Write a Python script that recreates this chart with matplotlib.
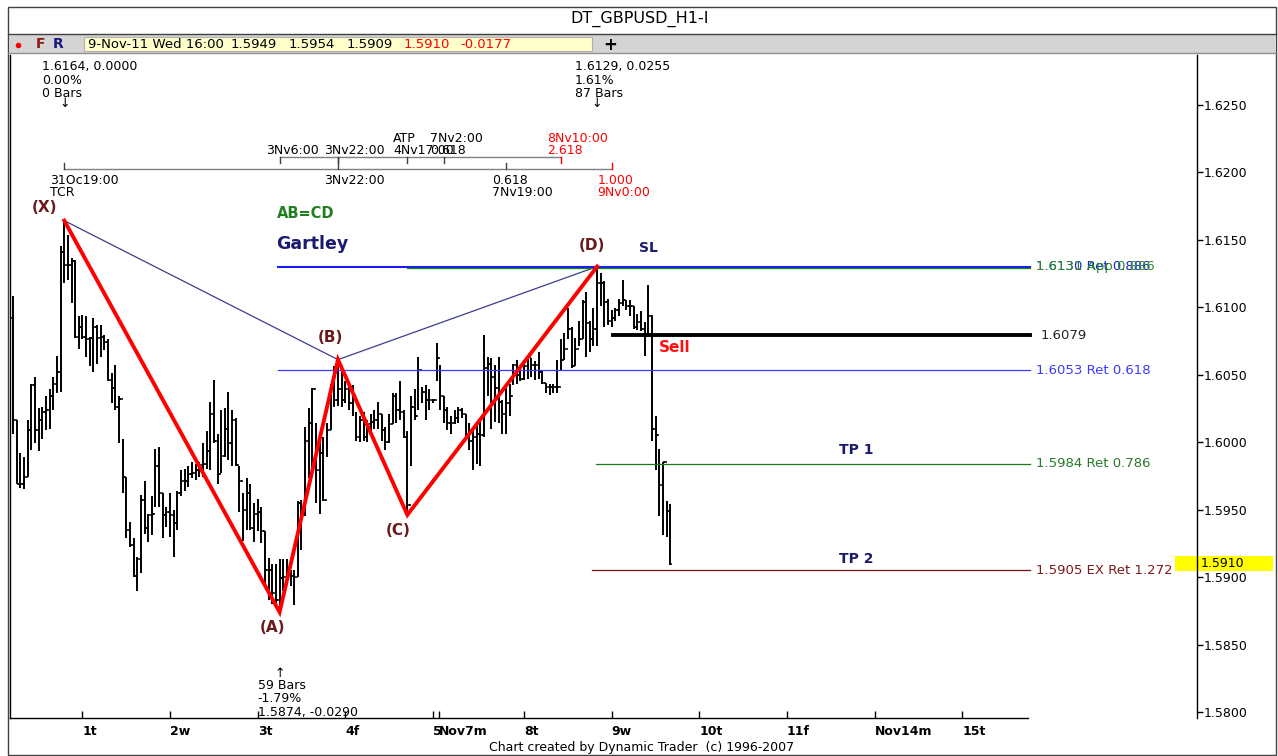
import matplotlib
matplotlib.use('Agg')
import matplotlib.pyplot as plt
import matplotlib.transforms as mtransforms
from matplotlib.patches import Rectangle
import numpy as np

# GBPUSD hourly bars, bar 0 = 1 Nov 00:00 (first bar shown = 31 Oct 05:00)
first_bar = -19
first_open = 1.6092
highs = [
    1.6108, 1.6016, 1.5992, 1.5989, 1.6016, 1.6043, 1.6048, 1.6025, 1.6026, 1.6034,
    1.6039, 1.6048, 1.6064, 1.6145, 1.6164, 1.6153, 1.6136, 1.6135, 1.6093, 1.6094,
    1.6093, 1.6078, 1.6092, 1.6087, 1.6087, 1.6079, 1.6076, 1.6051, 1.6057, 1.6034,
    1.6002, 1.5974, 1.5941, 1.5929, 1.5915, 1.5961, 1.5971, 1.5947, 1.5960, 1.5995,
    1.5996, 1.5962, 1.5952, 1.5962, 1.5950, 1.5964, 1.5979, 1.5980, 1.5982, 1.5985,
    1.5984, 1.5985, 1.5999, 1.6008, 1.6030, 1.6046, 1.6006, 1.6024, 1.6025, 1.6037,
    1.6024, 1.6018, 1.5982, 1.5962, 1.5973, 1.5969, 1.5955, 1.5958, 1.5952, 1.5934,
    1.5914, 1.5910, 1.5910, 1.5913, 1.5913, 1.5913, 1.5905, 1.5905, 1.5956, 1.5957,
    1.6011, 1.6025, 1.6040, 1.6014, 1.6005, 1.6004, 1.6014, 1.6043, 1.6056, 1.6061,
    1.6052, 1.6045, 1.6041, 1.6042, 1.6022, 1.6019, 1.6022, 1.6016, 1.6021, 1.6024,
    1.6030, 1.6021, 1.6011, 1.6021, 1.6036, 1.6036, 1.6045, 1.6024, 1.6008, 1.6034,
    1.6039, 1.6063, 1.6041, 1.6042, 1.6039, 1.6032, 1.6073, 1.6057, 1.6034, 1.6026,
    1.6019, 1.6024, 1.6026, 1.6025, 1.6021, 1.6014, 1.6011, 1.6013, 1.6015, 1.6079,
    1.6063, 1.6062, 1.6057, 1.6063, 1.6031, 1.6043, 1.6043, 1.6058, 1.6061, 1.6056,
    1.6061, 1.6064, 1.6062, 1.6060, 1.6067, 1.6053, 1.6044, 1.6043, 1.6043, 1.6061,
    1.6076, 1.6081, 1.6099, 1.6085, 1.6077, 1.6090, 1.6105, 1.6111, 1.6090, 1.6099,
    1.6130, 1.6125, 1.6119, 1.6106, 1.6098, 1.6099, 1.6106, 1.6120, 1.6105, 1.6105,
    1.6101, 1.6095, 1.6097, 1.6089, 1.6116, 1.6094, 1.6019, 1.5995, 1.5985, 1.5956, 1.5954,
]
lows = [
    1.6006, 1.5969, 1.5966, 1.5965, 1.5974, 1.5994, 1.5999, 1.5993, 1.6002, 1.6009,
    1.6010, 1.6024, 1.6036, 1.6037, 1.6118, 1.6120, 1.6103, 1.6077, 1.6069, 1.6076,
    1.6063, 1.6056, 1.6052, 1.6058, 1.6063, 1.6068, 1.6045, 1.6029, 1.6024, 1.5999,
    1.5962, 1.5929, 1.5922, 1.5900, 1.5890, 1.5903, 1.5932, 1.5926, 1.5931, 1.5952,
    1.5952, 1.5929, 1.5937, 1.5930, 1.5915, 1.5935, 1.5960, 1.5964, 1.5967, 1.5973,
    1.5972, 1.5974, 1.5974, 1.5980, 1.5979, 1.5999, 1.5969, 1.5977, 1.5989, 1.5987,
    1.5982, 1.5982, 1.5948, 1.5927, 1.5935, 1.5935, 1.5926, 1.5934, 1.5925, 1.5895,
    1.5883, 1.5880, 1.5879, 1.5874, 1.5890, 1.5895, 1.5893, 1.5879, 1.5900, 1.5920,
    1.5945, 1.5973, 1.5974, 1.5955, 1.5947, 1.5956, 1.5989, 1.6009, 1.6026, 1.6027,
    1.6026, 1.6029, 1.6024, 1.6019, 1.6001, 1.6000, 1.6001, 1.6000, 1.6006, 1.6010,
    1.6010, 1.6001, 1.5994, 1.5999, 1.6013, 1.6014, 1.6016, 1.6003, 1.5946, 1.5982,
    1.6016, 1.6024, 1.6029, 1.6016, 1.6024, 1.6029, 1.6045, 1.6024, 1.6014, 1.6009,
    1.6006, 1.6013, 1.6014, 1.6018, 1.6004, 1.5994, 1.5979, 1.5984, 1.5982, 1.6004,
    1.6034, 1.6010, 1.6015, 1.6014, 1.6006, 1.6006, 1.6019, 1.6042, 1.6043, 1.6045,
    1.6046, 1.6047, 1.6048, 1.6046, 1.6047, 1.6043, 1.6036, 1.6035, 1.6036, 1.6036,
    1.6053, 1.6061, 1.6076, 1.6055, 1.6056, 1.6071, 1.6076, 1.6063, 1.6067, 1.6071,
    1.6071, 1.6101, 1.6085, 1.6087, 1.6085, 1.6090, 1.6093, 1.6101, 1.6098, 1.6093,
    1.6084, 1.6083, 1.6082, 1.6064, 1.6078, 1.6001, 1.5979, 1.5945, 1.5931, 1.5930, 1.5909,
]
closes = [
    1.6016, 1.5969, 1.5969, 1.5974, 1.6009, 1.6042, 1.6009, 1.6016, 1.6022, 1.6024,
    1.6034, 1.6043, 1.6052, 1.6141, 1.6131, 1.6131, 1.6134, 1.6078, 1.6085, 1.6078,
    1.6076, 1.6077, 1.6085, 1.6077, 1.6078, 1.6074, 1.6046, 1.6040, 1.6026, 1.6032,
    1.5974, 1.5935, 1.5924, 1.5901, 1.5913, 1.5957, 1.5936, 1.5946, 1.5947, 1.5982,
    1.5962, 1.5946, 1.5948, 1.5946, 1.5940, 1.5962, 1.5971, 1.5971, 1.5976, 1.5977,
    1.5979, 1.5983, 1.5984, 1.5993, 1.6021, 1.6001, 1.5976, 1.5990, 1.6010, 1.5999,
    1.6016, 1.5983, 1.5971, 1.5950, 1.5962, 1.5936, 1.5947, 1.5948, 1.5934, 1.5905,
    1.5905, 1.5888, 1.5883, 1.5899, 1.5900, 1.5905, 1.5901, 1.5900, 1.5955, 1.5952,
    1.6001, 1.6014, 1.6039, 1.5979, 1.5992, 1.5957, 1.6009, 1.6039, 1.6031, 1.6039,
    1.6031, 1.6039, 1.6029, 1.6035, 1.6004, 1.6016, 1.6004, 1.6013, 1.6015, 1.6016,
    1.6021, 1.6009, 1.6000, 1.6013, 1.6034, 1.6024, 1.6022, 1.6004, 1.5953, 1.6026,
    1.6019, 1.6053, 1.6037, 1.6031, 1.6031, 1.6031, 1.6062, 1.6034, 1.6024, 1.6014,
    1.6014, 1.6018, 1.6024, 1.6021, 1.6006, 1.6001, 1.6004, 1.6006, 1.6005, 1.6055,
    1.6058, 1.6048, 1.6040, 1.6030, 1.6021, 1.6029, 1.6034, 1.6057, 1.6050, 1.6047,
    1.6056, 1.6063, 1.6057, 1.6057, 1.6052, 1.6044, 1.6041, 1.6041, 1.6041, 1.6041,
    1.6061, 1.6069, 1.6084, 1.6056, 1.6069, 1.6076, 1.6104, 1.6088, 1.6076, 1.6084,
    1.6118, 1.6118, 1.6104, 1.6090, 1.6092, 1.6098, 1.6103, 1.6105, 1.6101, 1.6101,
    1.6085, 1.6089, 1.6084, 1.6079, 1.6093, 1.6010, 1.6005, 1.5968, 1.5985, 1.5949, 1.5910,
]

day_ticks = [0, 24, 48, 72, 96, 97.6, 121, 145, 169, 193, 217, 241]
day_labels = ['1t', '2w', '3t', '4f', '5', 'Nov7m', '8t', '9w', '10t', '11f', 'Nov14m', '15t']
price_ticks = [1.5800, 1.5850, 1.5900, 1.5950, 1.6000, 1.6050, 1.6100, 1.6150, 1.6200, 1.6250]

# Gartley points X, A, B, C, D
pattern_bars = [-5, 54, 70, 89, 141]
pattern_prices = [1.6164, 1.5874, 1.6061, 1.5946, 1.6130]
pattern_names = ['(X)', '(A)', '(B)', '(C)', '(D)']
name_offsets = [(-20, 13), (-7, -15), (-8, 22), (-9, -16), (-5, 21)]

# horizontal levels
level_prices = [1.6130, 1.6129, 1.6079, 1.6053, 1.5984, 1.5905]
level_starts = [53.6, 88.9, 145.3, 53.6, 140.7, 139.6]
level_texts = ['1.6130 Ret 0.886', '1.6131 App 0.886', '1.6079', '1.6053 Ret 0.618',
               '1.5984 Ret 0.786', '1.5905 EX Ret 1.272']
level_colors = ['#1c1cf0', '#118811', '#000000', '#3a3aff', '#1a7a1a', '#7a1010']
level_text_colors = ['#2020e0', '#2a8a2a', '#222222', '#3a3aff', '#2a7a2a', '#7a1a1a']
level_widths = [1.5, 0.9, 2.8, 0.9, 0.9, 0.9]
level_end = 259.6

bars = np.arange(len(highs)) + first_bar
opens = [first_open] + closes[:-1]

fig = plt.figure(figsize=(12.78, 7.56), dpi=100)
fig.patch.set_facecolor('white')

# window chrome, in pixels
bg = fig.add_axes([0, 0, 1, 1])
bg.set_xlim(0, 1278)
bg.set_ylim(756, 0)
bg.axis('off')
bg.add_patch(Rectangle((8, 7), 1268, 748, fill=False, ec='#404040', lw=1))
bg.add_patch(Rectangle((9, 34), 1266, 19, fc='#d4d4d4', ec='none'))
bg.plot([8, 1276], [34, 34], color='#404040', lw=1)
bg.plot([8, 1276], [53, 53], color='#909090', lw=1)
bg.add_patch(Rectangle((84, 37), 508, 14, fc='#ffffcc', ec='#b0b0b0', lw=0.8))
bg.text(640, 19, 'DT_GBPUSD_H1-I', ha='center', va='center', fontsize=11.5)
bg.plot([18], [44.5], 'o', color='red', ms=3)
bg.text(36, 44.5, 'F', color='#8b1a1a', fontweight='bold', fontsize=10, va='center')
bg.text(53, 44.5, 'R', color='#1a1a7e', fontweight='bold', fontsize=10, va='center')
info = [('9-Nov-11 Wed 16:00', 88, 'black'), ('1.5949', 231, 'black'), ('1.5954', 289, 'black'),
        ('1.5909', 347, 'black'), ('1.5910', 404, 'red'), ('-0.0177', 460, 'red')]
for txt, xp, col in info:
    bg.text(xp, 44.5, txt, color=col, fontsize=9.5, va='center')
bg.text(610, 44.5, '+', fontweight='bold', fontsize=12, ha='center', va='center')
bg.text(642, 747, 'Chart created by Dynamic Trader  (c) 1996-2007', ha='center', va='center', fontsize=9)

# price chart
ax = fig.add_axes([10 / 1278, 38 / 756, 1187 / 1278, 663 / 756])
ax.set_xlim(-19.86, 305.34)
ax.set_ylim(1.579556, 1.628667)
ax.spines['top'].set_visible(False)
ax.spines['bottom'].set_bounds(-19.86, 259)
for s in ['left', 'right', 'bottom']:
    ax.spines[s].set_linewidth(1)
ax.yaxis.tick_right()
ax.set_yticks(price_ticks)
ax.set_yticklabels(['%.4f' % p for p in price_ticks])
ax.tick_params(axis='y', direction='out', length=4, width=1, labelsize=9, pad=1, left=False)
ax.set_xticks(day_ticks)
ax.set_xticklabels(day_labels, fontweight='bold', ha='left')
ax.tick_params(axis='x', direction='in', length=5, width=1, labelsize=9, pad=5)

ax.vlines(bars, lows, highs, color='black', lw=1.4, zorder=2)
ax.hlines(opens, bars - 0.6, bars, color='black', lw=1.1, zorder=2)
ax.hlines(closes, bars, bars + 0.6, color='black', lw=1.1, zorder=2)

# pattern
ax.plot([pattern_bars[0], pattern_bars[2], pattern_bars[4]],
        [pattern_prices[0], pattern_prices[2], pattern_prices[4]], color='#3c3c90', lw=0.9, zorder=3)
ax.plot(pattern_bars, pattern_prices, color='#ff0000', lw=2.8, zorder=4, solid_joinstyle='miter')
for b, p, n, off in zip(pattern_bars, pattern_prices, pattern_names, name_offsets):
    ax.annotate(n, (b, p), xytext=off, textcoords='offset pixels', ha='center', va='center',
                fontsize=11, fontweight='bold', color='#6b1a1a')

# levels
for p, s, t, c, tc, w in zip(level_prices, level_starts, level_texts, level_colors, level_text_colors, level_widths):
    ax.plot([s, level_end], [p, p], color=c, lw=w, zorder=3)
    tx = 262.6 if t == '1.6079' else 261.3
    ax.text(tx, level_prices[0] if 'App' in t else p, t, color=tc, fontsize=9.5, va='center', clip_on=False)

ax.text(53.3, 1.6169, 'AB=CD', color='#208020', fontsize=10.5, fontweight='bold', va='center')
ax.text(53.0, 1.6147, 'Gartley', color='#1a1a6e', fontsize=12.5, fontweight='bold', va='center')
ax.text(155, 1.6144, 'SL', color='#1a1a6e', fontsize=10, fontweight='bold', ha='center', va='center')
ax.text(162.3, 1.6070, 'Sell', color='#ff1010', fontsize=11, fontweight='bold', ha='center', va='center')
ax.text(211.9, 1.5994, 'TP 1', color='#1a1a6e', fontsize=10, fontweight='bold', ha='center', va='center')
ax.text(211.9, 1.5913, 'TP 2', color='#1a1a6e', fontsize=10, fontweight='bold', ha='center', va='center')

# swing statistics
stats = [
    (0, ['1.6164, 0.0000', '0.00%', '0 Bars'], [154, 140, 127], 117, '\u2193'),
    (4, ['1.6129, 0.0255', '1.61%', '87 Bars'], [200, 186, 173], 163, '\u2193'),
    (1, ['59 Bars', '-1.79%', '1.5874, -0.0290'], [-73, -86, -100], -61, '\u2191'),
]
for k, lines, dys, ady, arrow in stats:
    b, p = pattern_bars[k], pattern_prices[k]
    for ln, dy in zip(lines, dys):
        ax.annotate(ln, (b, p), xytext=(-22, dy), textcoords='offset pixels', ha='left', va='center', fontsize=9)
    ax.annotate(arrow, (b, p), xytext=(0, ady), textcoords='offset pixels', ha='center', va='center', fontsize=9)

# time ruler
upper_y, lower_y, tick = 1.6211, 1.6202, 0.00044
ax.plot([54, 131], [upper_y, upper_y], color='#808080', lw=1)
ax.plot([-5, 145], [lower_y, lower_y], color='#808080', lw=1)
upper = [(54, ['3Nv6:00'], 'black'), (70, ['3Nv22:00'], 'black'), (89, ['ATP', '4Nv17:00'], 'black'),
         (99, ['7Nv2:00', '0.618'], 'black'), (131, ['8Nv10:00', '2.618'], 'red')]
lower = [(-5, ['31Oc19:00', 'TCR'], 'black'), (70, ['3Nv22:00'], 'black'),
         (116, ['0.618', '7Nv19:00'], 'black'), (145, ['1.000', '9Nv0:00'], 'red')]
for b, labs, col in upper:
    ax.plot([b, b], [upper_y, upper_y - tick], color='#404040' if col == 'black' else 'red', lw=1)
    dys = [7] if len(labs) == 1 else [19, 7]
    for lab, dy in zip(labs, dys):
        ax.annotate(lab, (b, upper_y), xytext=(-14, dy), textcoords='offset pixels', ha='left', va='center',
                    fontsize=9, color=col)
for b, labs, col in lower:
    ax.plot([b, b], [lower_y, upper_y if b == 70 else lower_y + tick], color='#404040' if col == 'black' else 'red', lw=1)
    for lab, dy in zip(labs, [-11, -23]):
        ax.annotate(lab, (b, lower_y), xytext=(-14, dy), textcoords='offset pixels', ha='left', va='center',
                    fontsize=9, color=col)

# last price marker on the price scale
trans = mtransforms.blended_transform_factory(ax.transAxes, ax.transData)
ax.add_patch(Rectangle((0.9815, closes[-1] - 0.00052), 0.0826, 0.00104, transform=trans,
                       fc='#ffff00', ec='none', clip_on=False, zorder=1))
ax.text(1.0034, closes[-1], '%.4f' % closes[-1], transform=trans, fontsize=9, va='center', clip_on=False)

fig.savefig('out.png', dpi=100)
